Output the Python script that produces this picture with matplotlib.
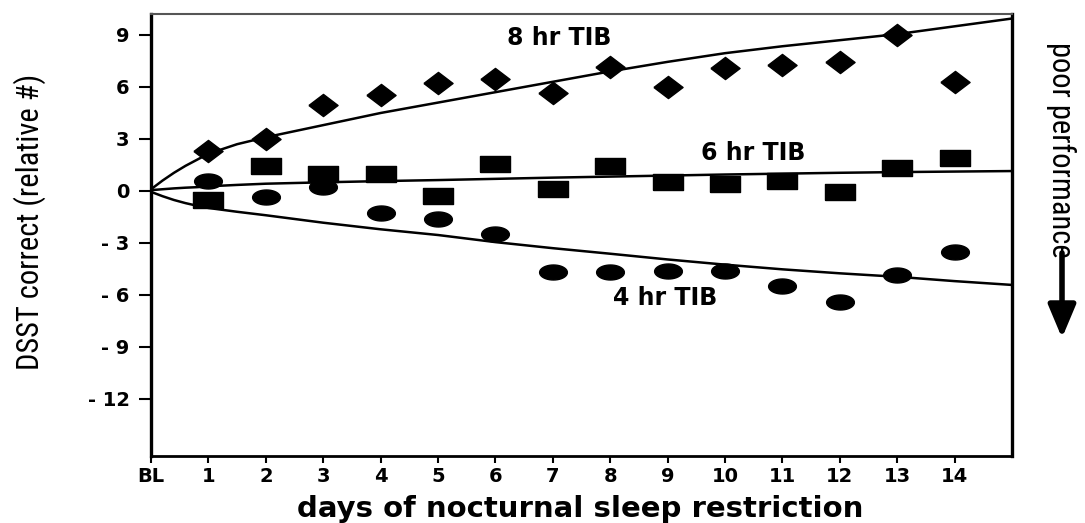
import matplotlib
matplotlib.use("Agg")
import matplotlib.pyplot as plt
import numpy as np
from matplotlib.path import Path

# days (BL = 0)
days = list(range(1, 15))
tib8 = [2.31, 2.98, 4.96, 5.54, 6.21, 6.44, 5.64, 7.17, 5.98, 7.12, 7.27, 7.46, 9.0, 6.31]
tib6 = [-0.52, 1.46, 0.98, 0.98, -0.29, 1.56, 0.12, 1.46, 0.54, 0.40, 0.58, -0.04, 1.31, 1.89]
tib4 = [0.6, -0.33, 0.25, -1.25, -1.62, -2.48, -4.65, -4.65, -4.6, -4.6, -5.46, -6.42, -4.85, -3.54]

# fitted curves
fit_x = [0, 0.2, 0.4, 0.6, 0.8, 1, 1.5, 2, 3, 4, 5, 6, 7, 8, 9, 10, 11, 12, 13, 14, 15]
fit8 = [0.1, 0.6, 1.05, 1.45, 1.8, 2.15, 2.7, 3.1, 3.8, 4.5, 5.1, 5.7, 6.3, 6.9,
        7.45, 7.95, 8.35, 8.7, 9.05, 9.5, 9.95]
fit6 = [0.05, 0.1, 0.15, 0.19, 0.22, 0.27, 0.35, 0.42, 0.5, 0.57, 0.63, 0.7, 0.77, 0.83,
        0.89, 0.95, 1.0, 1.05, 1.09, 1.12, 1.15]
fit4 = [-0.05, -0.3, -0.52, -0.7, -0.85, -0.98, -1.2, -1.4, -1.83, -2.21, -2.54, -2.95,
        -3.3, -3.62, -3.95, -4.25, -4.52, -4.75, -4.95, -5.2, -5.42]

xticks = list(range(0, 15))
xlabels = ['BL'] + [str(d) for d in days]
yticks = [9, 6, 3, 0, -3, -6, -9, -12]
ylabels = ['9', '6', '3', '0', '- 3', '- 6', '- 9', '- 12']

# wide markers (the scan is stretched sideways)
diamond = Path([(-1, 0), (0, 0.76), (1, 0), (0, -0.76), (-1, 0)])
square = Path([(-1, -0.55), (1, -0.55), (1, 0.55), (-1, 0.55), (-1, -0.55)])
t = np.linspace(0, 2 * np.pi, 41)
ellipse = Path(np.column_stack([np.cos(t), 0.54 * np.sin(t)]))

fig = plt.figure(figsize=(10.85, 5.23), dpi=100)
ax = fig.add_axes([0.1392, 0.1281, 0.7935, 0.8451])

ax.plot(fit_x, fit8, color='black', lw=1.8)
ax.plot(fit_x, fit6, color='black', lw=1.8)
ax.plot(fit_x, fit4, color='black', lw=1.8)

ax.plot(days, tib8, ls='none', marker=diamond, ms=21, color='black')
ax.plot(days, tib6, ls='none', marker=square, ms=21, color='black')
ax.plot(days, tib4, ls='none', marker=ellipse, ms=20, color='black')

ax.set_xlim(0, 15)
ax.set_ylim(-15.29, 10.21)
ax.set_xticks(xticks)
ax.set_xticklabels(xlabels)
ax.set_yticks(yticks)
ax.set_yticklabels(ylabels)

tickfont = dict(family='DejaVu Sans', weight='bold', size=14)
for lab in ax.get_xticklabels() + ax.get_yticklabels():
    lab.set_fontproperties(matplotlib.font_manager.FontProperties(**tickfont))
ax.tick_params(axis='y', direction='out', length=8.5, width=1.5, pad=7)
ax.tick_params(axis='x', direction='out', length=5, width=1.5, pad=3)

ax.spines['left'].set_linewidth(2.4)
ax.spines['right'].set_linewidth(2.4)
ax.spines['bottom'].set_linewidth(2.0)
ax.spines['top'].set_linewidth(1.5)
ax.spines['top'].set_color('#555555')

lbl = dict(family='DejaVu Sans', weight='bold', size=17, ha='center', va='center')
ax.text(7.11, 8.81, '8 hr TIB', **lbl)
ax.text(10.49, 2.19, '6 hr TIB', **lbl)
ax.text(8.95, -6.17, '4 hr TIB', **lbl)

narrow = ['Liberation Sans Narrow', 'Roboto Condensed', 'DejaVu Sans']
fig.text(30 / 1085, 301 / 523, 'DSST correct (relative #)', rotation=90,
         family=narrow, size=22, ha='center', va='center')
fig.text(580 / 1085, 6 / 523, 'days of nocturnal sleep restriction',
         family='DejaVu Sans', weight='bold', size=21, ha='center', va='baseline')
fig.text(1061 / 1085, 373 / 523, 'poor performance', rotation=270,
         family=narrow, size=22, ha='center', va='center')

ax.annotate('', xy=(1062, 185), xytext=(1062, 270),
            xycoords='figure pixels', textcoords='figure pixels',
            arrowprops=dict(arrowstyle='-|>,head_length=1.0,head_width=0.42',
                            mutation_scale=20, lw=4, color='black',
                            shrinkA=0, shrinkB=0))

fig.savefig('out.png', dpi=100)
